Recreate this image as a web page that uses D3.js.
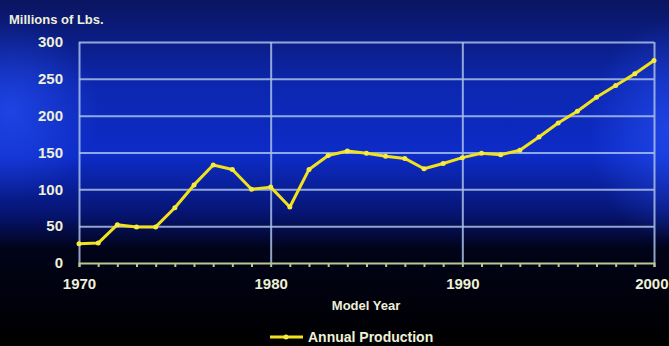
<!DOCTYPE html>
<html lang="en">
<head>
<meta charset="UTF-8">
<title>Annual Production</title>
<script src="https://d3js.org/d3.v7.min.js"></script>
<style>
    body { margin: 0; padding: 0; background: #000; }
    svg { display: block; }
    text { font-family: "Liberation Sans", Arial, sans-serif; font-weight: bold; fill: #eef0d8; }
</style>
</head>
<body>
<svg id="chart" width="669" height="346"></svg>
<script>
// data
const years = d3.range(1970, 2001);
const production = [26, 27, 52, 49, 49, 75, 106, 133, 127, 100, 103, 76, 127, 146, 152, 149,
    145, 142, 128, 135, 143, 149, 147, 153, 171, 190, 206, 225, 241, 257, 275];
const yTicks = [0, 50, 100, 150, 200, 250, 300];
const xLabels = [1970, 1980, 1990, 2000];

const svg = d3.select("#chart");
const W = +svg.attr("width"), H = +svg.attr("height");
const margin = { top: 42, right: 15, bottom: 83, left: 79 };
const width = W - margin.left - margin.right;
const height = H - margin.top - margin.bottom;

// background: blue fading into black
const defs = svg.append("defs");
const bg = defs.append("linearGradient").attr("id", "bg").attr("x1", 0).attr("y1", 0).attr("x2", 0).attr("y2", 1);
bg.append("stop").attr("offset", "0%").attr("stop-color", "#0a1560");
bg.append("stop").attr("offset", "25%").attr("stop-color", "#0c27b0");
bg.append("stop").attr("offset", "45%").attr("stop-color", "#0d2cc8");
bg.append("stop").attr("offset", "62%").attr("stop-color", "#061470");
bg.append("stop").attr("offset", "72%").attr("stop-color", "#010318");
bg.append("stop").attr("offset", "100%").attr("stop-color", "#000000");
svg.append("rect").attr("width", W).attr("height", H).attr("fill", "url(#bg)");

const glow = defs.append("radialGradient").attr("id", "glowL");
glow.append("stop").attr("offset", "0%").attr("stop-color", "#2a55ff").attr("stop-opacity", 0.6);
glow.append("stop").attr("offset", "100%").attr("stop-color", "#2a55ff").attr("stop-opacity", 0);
svg.append("ellipse").attr("cx", 10).attr("cy", 110).attr("rx", 90).attr("ry", 90).attr("fill", "url(#glowL)");
svg.append("ellipse").attr("cx", 669).attr("cy", 130).attr("rx", 80).attr("ry", 110).attr("fill", "url(#glowL)");

const g = svg.append("g").attr("transform", `translate(${margin.left},${margin.top})`);

const x = d3.scaleLinear().domain([1970, 2000]).range([0, width]);
const y = d3.scaleLinear().domain([0, 300]).range([height, 0]);

// horizontal grid
g.append("g")
    .attr("class", "grid-y")
    .call(d3.axisLeft(y).tickValues(yTicks.filter(d => d > 0)).tickSize(-width).tickFormat(""))
    .call(s => s.select(".domain").remove())
    .selectAll("line").attr("stroke", "#a9bfe8").attr("stroke-width", 2).attr("opacity", 0.85);

// vertical grid
g.append("g")
    .attr("class", "grid-x")
    .call(d3.axisBottom(x).tickValues(xLabels).tickSize(height).tickFormat(""))
    .call(s => s.select(".domain").remove())
    .selectAll("line").attr("stroke", "#a9bfe8").attr("stroke-width", 2).attr("opacity", 0.85);

// y tick labels
g.append("g")
    .call(d3.axisLeft(y).tickValues(yTicks).tickSize(0).tickPadding(16))
    .call(s => s.select(".domain").remove())
    .selectAll("text").style("font-size", "15px").style("fill", "#eef0d8");

// x axis with year ticks
const xAxis = g.append("g")
    .attr("transform", `translate(0,${height})`)
    .call(d3.axisBottom(x).tickValues(years).tickSize(4).tickFormat(d => xLabels.includes(d) ? d : ""));
xAxis.select(".domain").attr("stroke", "#b8c890").attr("stroke-width", 2);
xAxis.selectAll("line").attr("stroke", "#b8c890").attr("stroke-width", 2);
xAxis.selectAll("text").style("font-size", "15px").style("fill", "#eef0d8").attr("dy", "1.25em");
// last label kept inside the frame
xAxis.selectAll(".tick").filter(d => d === 2000).select("text").attr("text-anchor", "end").attr("x", 14);

// axis titles
svg.append("text").attr("x", 9).attr("y", 24).style("font-size", "13px").text("Millions of Lbs.");
svg.append("text").attr("x", 366).attr("y", 310).attr("text-anchor", "middle")
    .style("font-size", "13px").text("Model Year");

// production line
const line = d3.line().x((d, i) => x(years[i])).y(d => y(d));
g.append("path")
    .datum(production)
    .attr("fill", "none")
    .attr("stroke", "#f2e21c")
    .attr("stroke-width", 3)
    .attr("stroke-linejoin", "round")
    .attr("d", line);
g.selectAll(".pt")
    .data(production)
    .enter().append("circle")
    .attr("class", "pt")
    .attr("cx", (d, i) => x(years[i]))
    .attr("cy", d => y(d))
    .attr("r", 2.5)
    .attr("fill", "#f6ec40");

// legend
const lg = svg.append("g").attr("transform", "translate(270,337)");
lg.append("line").attr("x1", 0).attr("x2", 33).attr("stroke", "#f2e21c").attr("stroke-width", 3);
lg.append("circle").attr("cx", 16).attr("r", 2.5).attr("fill", "#f6ec40");
lg.append("text").attr("x", 38).attr("y", 5).style("font-size", "14px").text("Annual Production");
</script>
</body>
</html>
